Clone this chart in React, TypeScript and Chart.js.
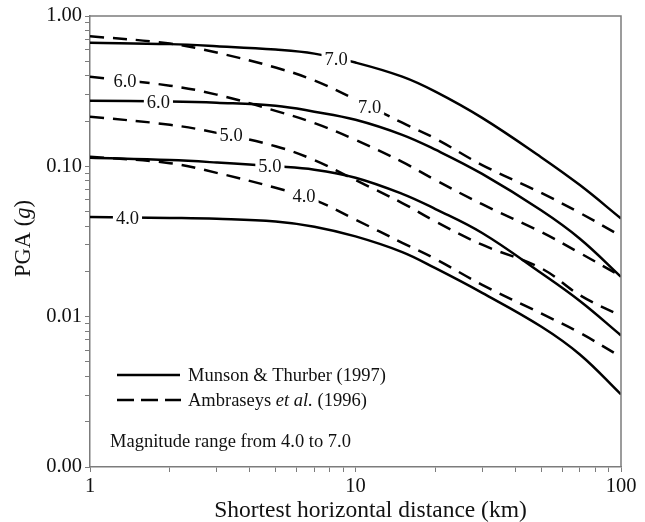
import React, { useEffect, useRef } from 'react';
import { Chart, registerables } from 'chart.js';

Chart.register(...registerables);

// Distance (km) at which each curve is sampled
const distanceKm = [1, 2, 3, 5, 7, 10, 15, 20, 30, 50, 70, 100];

// Munson & Thurber (1997) – solid
const munson70 = [0.663, 0.65, 0.63, 0.598, 0.562, 0.49, 0.395, 0.314, 0.21, 0.115, 0.075, 0.045];
const munson60 = [0.273, 0.27, 0.265, 0.253, 0.231, 0.204, 0.162, 0.129, 0.089, 0.051, 0.033, 0.0184];
const munson50 = [0.114, 0.11, 0.106, 0.1, 0.095, 0.084, 0.0656, 0.052, 0.036, 0.0195, 0.0127, 0.0075];
const munson40 = [0.046, 0.0454, 0.0448, 0.043, 0.0397, 0.0342, 0.0269, 0.021, 0.0144, 0.0086, 0.0056, 0.00304];

// Ambraseys et al. (1996) – dashed
const ambraseys70 = [0.734, 0.656, 0.571, 0.454, 0.372, 0.278, 0.195, 0.153, 0.102, 0.0666, 0.049, 0.0344];
const ambraseys60 = [0.395, 0.344, 0.3, 0.234, 0.194, 0.15, 0.107, 0.081, 0.056, 0.0366, 0.0265, 0.0186];
const ambraseys50 = [0.214, 0.189, 0.167, 0.136, 0.11, 0.081, 0.057, 0.043, 0.0301, 0.021, 0.0139, 0.0101];
const ambraseys40 = [0.116, 0.105, 0.0905, 0.072, 0.0598, 0.0442, 0.031, 0.0242, 0.0163, 0.0105, 0.0078, 0.0054];

// Magnitude labels written on the curves
const curveLabels = ['7.0', '7.0', '6.0', '6.0', '5.0', '5.0', '4.0', '4.0'];
const curveLabelDistance = [8.45, 11.3, 1.81, 1.355, 4.76, 3.4, 1.384, 6.4];
const curveLabelPGA = [0.52, 0.249, 0.269, 0.366, 0.1007, 0.162, 0.0454, 0.0636];

// Axis ticks
const yTickValues = [
  0.001, 0.002, 0.003, 0.004, 0.005, 0.006, 0.007, 0.008, 0.009,
  0.01, 0.02, 0.03, 0.04, 0.05, 0.06, 0.07, 0.08, 0.09,
  0.1, 0.2, 0.3, 0.4, 0.5, 0.6, 0.7, 0.8, 0.9, 1,
];
const yMajorValues = [0.001, 0.01, 0.1, 1];
const yMajorLabels = ['0.00', '0.01', '0.10', '1.00'];
const xTickValues = [1, 2, 3, 4, 5, 6, 7, 8, 9, 10, 20, 30, 40, 50, 60, 70, 80, 90, 100];
const xMajorValues = [1, 10, 100];
const xMajorLabels = ['1', '10', '100'];

// Texts
const legendSolid = 'Munson & Thurber (1997)';
const legendDashedParts = ['Ambraseys ', 'et al.', ' (1996)'];
const noteText = 'Magnitude range from 4.0 to 7.0';
const xTitle = 'Shortest horizontal distance (km)';
const yTitleParts = ['PGA (', 'g', ')'];

const FONT = '"Liberation Serif", "Times New Roman", serif';
const AXIS_GRAY = '#7c7c7c';
const INK = '#111111';

function drawParts(ctx: CanvasRenderingContext2D, parts: string[], italicIdx: number, x: number, y: number, size: number) {
  let cx = x;
  parts.forEach((p, i) => {
    ctx.font = `${i === italicIdx ? 'italic ' : ''}${size}px ${FONT}`;
    ctx.fillText(p, cx, y);
    cx += ctx.measureText(p).width;
  });
  return cx - x;
}

function partsWidth(ctx: CanvasRenderingContext2D, parts: string[], italicIdx: number, size: number) {
  let w = 0;
  parts.forEach((p, i) => {
    ctx.font = `${i === italicIdx ? 'italic ' : ''}${size}px ${FONT}`;
    w += ctx.measureText(p).width;
  });
  return w;
}

const overlayPlugin = {
  id: 'overlay',
  afterDatasetsDraw(chart: any) {
    const { ctx, chartArea: a, scales } = chart;
    const xs = scales.x;
    const ys = scales.y;
    ctx.save();

    // top and right frame
    ctx.strokeStyle = AXIS_GRAY;
    ctx.lineWidth = 1.5;
    ctx.beginPath();
    ctx.moveTo(a.left, a.top);
    ctx.lineTo(a.right, a.top);
    ctx.lineTo(a.right, a.bottom);
    ctx.stroke();

    // curve labels
    ctx.textAlign = 'center';
    ctx.textBaseline = 'middle';
    ctx.font = `18.5px ${FONT}`;
    curveLabels.forEach((t, i) => {
      const px = xs.getPixelForValue(curveLabelDistance[i]);
      const py = ys.getPixelForValue(curveLabelPGA[i]);
      const w = ctx.measureText(t).width;
      ctx.fillStyle = '#ffffff';
      ctx.fillRect(px - w / 2 - 3, py - 8, w + 6, 16);
      ctx.fillStyle = INK;
      ctx.fillText(t, px, py + 1);
    });

    // legend
    const lx0 = a.left + 27;
    const lx1 = a.left + 90;
    const ly1 = a.top + 359;
    const ly2 = a.top + 384;
    ctx.strokeStyle = '#000';
    ctx.lineWidth = 2.5;
    ctx.setLineDash([]);
    ctx.beginPath();
    ctx.moveTo(lx0, ly1);
    ctx.lineTo(lx1, ly1);
    ctx.stroke();
    ctx.setLineDash([17, 7]);
    ctx.beginPath();
    ctx.moveTo(lx0, ly2);
    ctx.lineTo(lx1 + 1, ly2);
    ctx.stroke();
    ctx.setLineDash([]);

    ctx.textAlign = 'left';
    ctx.fillStyle = INK;
    ctx.font = `18.5px ${FONT}`;
    ctx.fillText(legendSolid, a.left + 98, ly1 + 1);
    drawParts(ctx, legendDashedParts, 1, a.left + 98, ly2 + 1, 18.5);
    ctx.font = `18.5px ${FONT}`;
    ctx.fillText(noteText, a.left + 20, a.top + 426);

    // x title
    ctx.textAlign = 'center';
    ctx.font = `23.5px ${FONT}`;
    ctx.fillText(xTitle, (a.left + a.right) / 2 + 15, 511);

    // y title (rotated, with italic g)
    ctx.save();
    ctx.translate(24, 238.5);
    ctx.rotate(-Math.PI / 2);
    ctx.textAlign = 'left';
    const w = partsWidth(ctx, yTitleParts, 1, 22.5);
    drawParts(ctx, yTitleParts, 1, -w / 2, 0, 22.5);
    ctx.restore();

    ctx.restore();
  },
};

export default function App() {
  const canvasRef = useRef<HTMLCanvasElement | null>(null);

  useEffect(() => {
    const canvas = canvasRef.current;
    if (!canvas) return;

    const toPoints = (vals: number[]) => distanceKm.map((d, i) => ({ x: d, y: vals[i] }));
    const solid = (label: string, vals: number[]) => ({
      label,
      data: toPoints(vals),
      borderColor: '#000',
      borderWidth: 2.5,
      pointRadius: 0,
      fill: false,
      tension: 0.4,
    });
    const dashed = (label: string, vals: number[]) => ({
      ...solid(label, vals),
      borderDash: [14, 9],
    });

    const chart = new Chart(canvas, {
      type: 'line',
      data: {
        datasets: [
          solid('Munson 7.0', munson70),
          solid('Munson 6.0', munson60),
          solid('Munson 5.0', munson50),
          solid('Munson 4.0', munson40),
          dashed('Ambraseys 7.0', ambraseys70),
          dashed('Ambraseys 6.0', ambraseys60),
          dashed('Ambraseys 5.0', ambraseys50),
          dashed('Ambraseys 4.0', ambraseys40),
        ],
      },
      options: {
        animation: false,
        responsive: false,
        devicePixelRatio: 1,
        layout: { padding: { top: 16, right: 24, left: 0, bottom: 0 } },
        plugins: {
          legend: { display: false },
          tooltip: { enabled: false },
          title: { display: false },
        },
        scales: {
          x: {
            type: 'logarithmic',
            position: 'bottom',
            min: 1,
            max: 100,
            afterBuildTicks: (axis: any) => {
              axis.ticks = xTickValues.map((v) => ({ value: v }));
            },
            afterFit: (axis: any) => {
              axis.height = 55;
            },
            grid: {
              drawOnChartArea: false,
              drawTicks: true,
              tickLength: 5,
              color: AXIS_GRAY,
              lineWidth: 1,
            },
            border: { display: true, color: AXIS_GRAY, width: 1.5 },
            ticks: {
              autoSkip: false,
              maxRotation: 0,
              minRotation: 0,
              padding: 2,
              color: INK,
              font: { family: FONT, size: 20.5 },
              callback: (value: any) => {
                const i = xMajorValues.indexOf(Number(value));
                return i >= 0 ? xMajorLabels[i] : '';
              },
            },
          },
          y: {
            type: 'logarithmic',
            position: 'left',
            min: 0.001,
            max: 1,
            afterBuildTicks: (axis: any) => {
              axis.ticks = yTickValues.map((v) => ({ value: v }));
            },
            afterFit: (axis: any) => {
              axis.width = 90;
            },
            grid: {
              drawOnChartArea: false,
              drawTicks: true,
              tickLength: 5,
              color: AXIS_GRAY,
              lineWidth: 1,
            },
            border: { display: true, color: AXIS_GRAY, width: 1.5 },
            ticks: {
              autoSkip: false,
              padding: 3,
              color: INK,
              font: { family: FONT, size: 20.5 },
              callback: (value: any) => {
                const i = yMajorValues.indexOf(Number(value));
                return i >= 0 ? yMajorLabels[i] : '';
              },
            },
          },
        },
      },
      plugins: [overlayPlugin],
    } as any);

    return () => {
      chart.destroy();
    };
  }, []);

  return (
    <div style={{ position: 'fixed', left: 0, top: 0, width: 645, height: 522, background: '#fff' }}>
      <canvas ref={canvasRef} width={645} height={522} style={{ display: 'block', width: 645, height: 522 }} />
    </div>
  );
}
